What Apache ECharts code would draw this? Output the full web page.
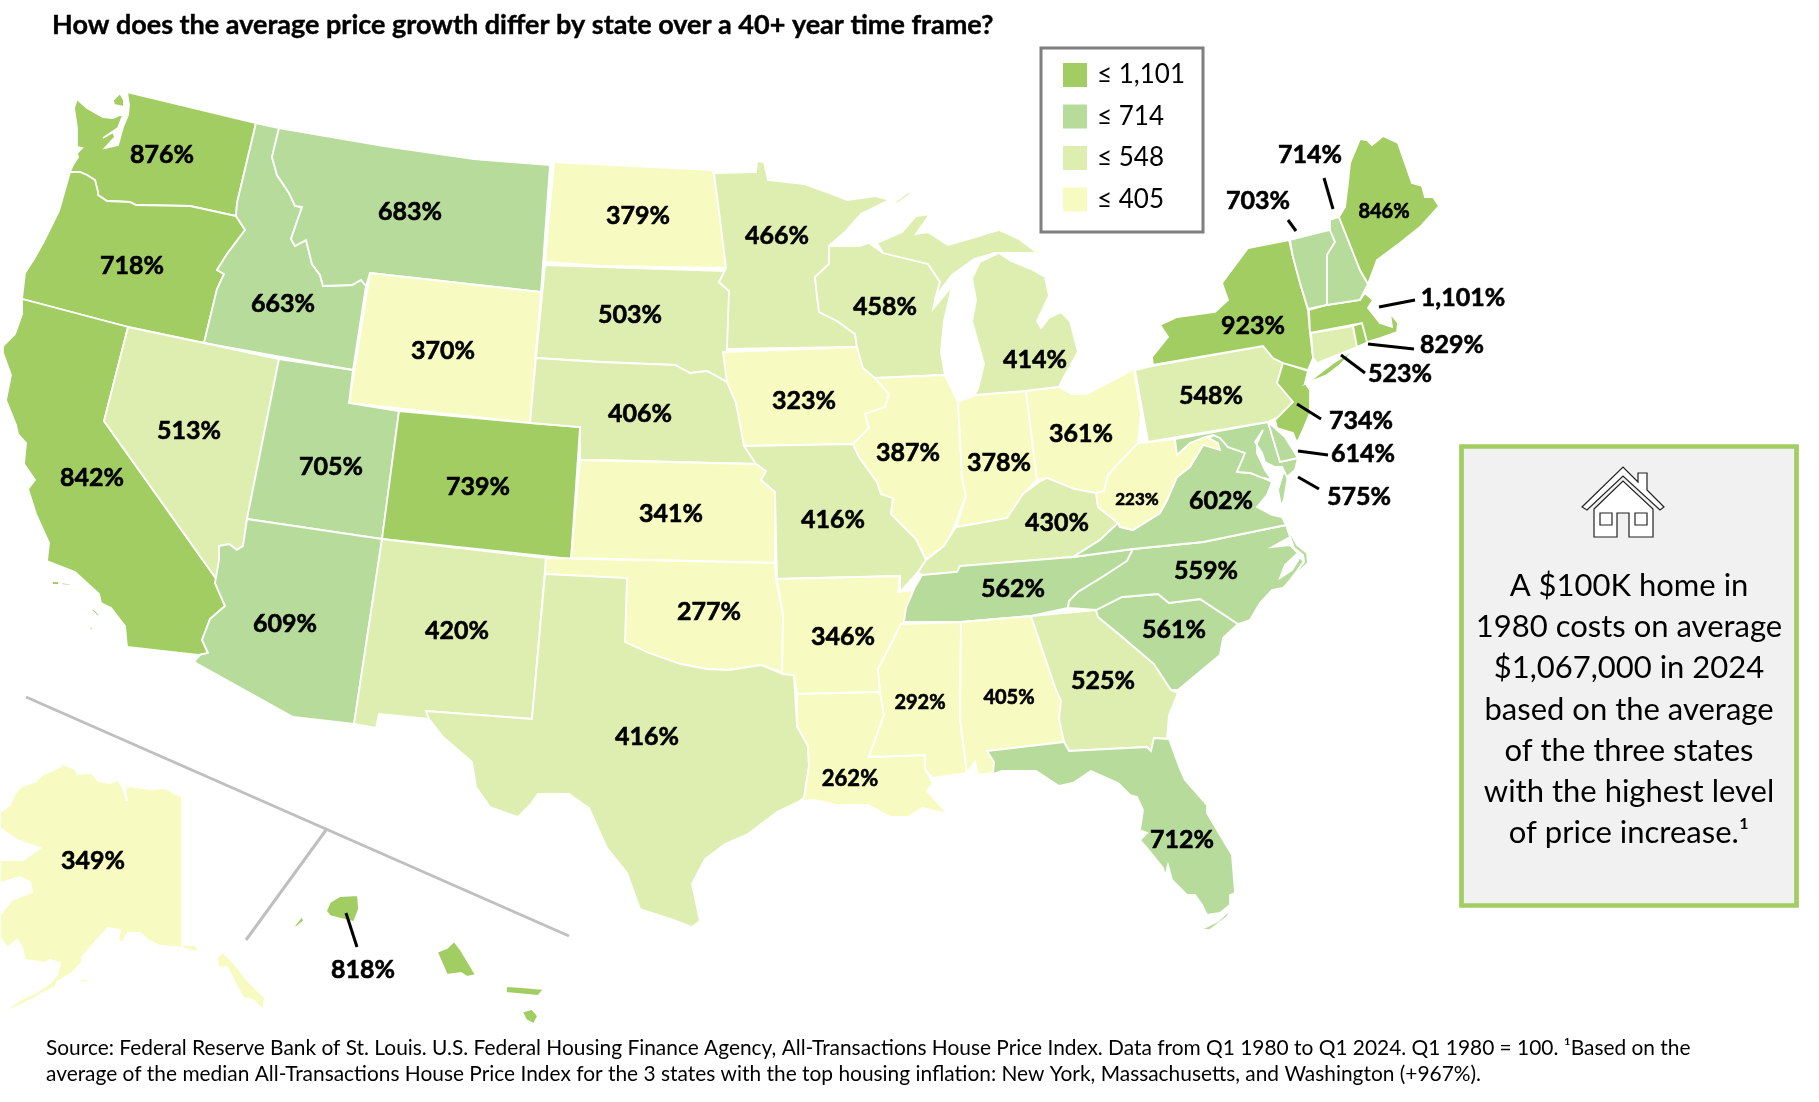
<!DOCTYPE html>
<html>
<head>
    <meta charset="utf-8">
    <title>Average price growth by state</title>
    <script src="https://cdn.jsdelivr.net/npm/echarts@6/dist/echarts.min.js"></script>
    <style>html,body{margin:0;padding:0;background:#fff;}</style>
</head>
<body>
    <div id="main" style="width:1819px;height:1102px;"></div>
    <script type="text/javascript">
        var stateNames = ['Washington','Oregon','California','Idaho','Montana','Wyoming','Nevada','Utah','Colorado','Arizona','New Mexico',
            'North Dakota','South Dakota','Nebraska','Kansas','Oklahoma','Texas','Minnesota','Iowa','Missouri','Arkansas','Louisiana',
            'Wisconsin','Illinois','Indiana','Michigan','Ohio','Kentucky','Tennessee','Mississippi','Alabama','Georgia','Florida',
            'South Carolina','North Carolina','Virginia','West Virginia','Maryland','Delaware','Pennsylvania','New Jersey','New York',
            'Connecticut','Rhode Island','Massachusetts','Vermont','New Hampshire','Maine','Alaska','Hawaii'];
        var stateGrowth = [876,718,842,663,683,370,513,705,739,609,420,
            379,503,406,341,277,416,466,323,416,346,262,
            458,387,378,414,361,430,562,292,405,525,712,
            561,559,602,223,575,614,548,734,923,
            523,829,1101,703,714,846,349,818];
        var legendBounds = [1101,714,548,405];
        var legendColors = ['#A1CD63','#B7DB9B','#DEEEB0','#F8FBC1'];

        // state outlines: [label x, label y], then flat x,y rings
        var stateShapes = {
            'Washington': [[162,155],[77,99,74,108,77,128,77,147,82,148,77,153,78,157,73,165,70,172,80,172,87,175,95,180,98,192,98,195,107,201,130,202,136,205,190,206,236,216,237,203,256,123,127,92,129,105,128,115,123,127,118,145,105,148,115,137,113,132,103,138,118,128,123,115,120,115,113,118,103,117,87,108],[113,100,120,93,124,100,124,107,114,105]],
            'Oregon': [[132,266],[70,172,59,211,43,243,34,259,25,273,22,299,128,327,204,343,217,289,224,274,217,270,227,254,245,230,236,216,190,206,136,205,130,202,107,201,98,195,98,192,95,180,87,175,80,172]],
            'California': [[92,478],[22,299,22,314,15,334,3,346,3,353,11,375,6,400,16,425,18,434,26,443,24,464,35,480,28,489,36,514,49,543,47,561,75,572,99,594,101,603,111,608,125,626,127,647,198,655,208,653,202,640,210,619,225,606,215,583,217,580,104,421,128,327],[52,581,59,581,59,585,52,585],[61,582,72,584,70,586,62,585],[93,608,100,615,97,616,91,610],[89,624,94,630,90,630]],
            'Idaho': [[283,304],[256,123,279,128,272,157,277,175,289,193,295,206,302,207,291,239,295,246,306,240,312,264,320,275,323,286,352,285,361,280,366,286,353,370,204,343,217,289,224,274,217,270,227,254,245,230,236,216,237,203]],
            'Montana': [[410,212],[279,128,384,146,474,159,550,165,541,292,370,273,366,286,361,280,352,285,323,286,320,275,312,264,306,240,295,246,291,239,302,207,295,206,289,193,277,175,272,157]],
            'Wyoming': [[443,351],[370,273,541,292,530,423,349,403]],
            'Nevada': [[189,431],[128,327,204,343,279,359,247,519,243,546,237,550,229,544,219,546,219,560,217,580,104,421]],
            'Utah': [[331,467],[279,359,353,370,349,403,399,411,382,539,247,519]],
            'Colorado': [[478,487],[399,411,530,423,580,427,571,559,382,539]],
            'Arizona': [[285,624],[247,519,382,539,354,724,293,717,194,662,200,655,208,653,202,640,210,619,225,606,215,583,219,560,219,546,229,544,237,550,243,546]],
            'New Mexico': [[457,631],[382,539,546,558,532,719,426,711,429,719,379,714,376,728,354,724]],
            'North Dakota': [[638,216],[554,162,713,170,719,211,726,268,600,266,545,262]],
            'South Dakota': [[630,315],[545,265,726,271,719,282,729,291,729,349,725,352,728,365,727,382,707,371,690,373,675,365,600,362,536,358]],
            'Nebraska': [[640,414],[536,358,600,362,675,365,690,373,707,371,727,382,736,403,746,444,756,464,600,460,580,460,580,427,530,423]],
            'Kansas': [[671,514],[580,460,756,464,766,471,761,480,775,492,775,563,571,558]],
            'Oklahoma': [[709,612],[546,558,775,563,776,579,783,615,782,672,761,665,729,670,707,669,680,664,649,653,625,642,627,578,545,574]],
            'Texas': [[647,737],[545,574,627,578,625,642,649,653,680,664,707,669,729,670,761,665,783,674,794,675,797,726,808,746,809,766,804,798,800,801,777,812,748,834,725,844,705,859,692,884,700,921,692,927,671,919,640,909,627,873,607,848,589,808,569,794,538,794,530,805,518,817,490,807,476,787,472,762,443,737,429,719,426,711,532,719]],
            'Minnesota': [[777,236],[714,173,756,172,757,161,764,162,768,180,804,184,837,196,847,200,875,196,889,200,861,214,845,232,829,246,829,264,815,277,817,296,819,312,837,321,855,334,857,347,727,349,729,291,719,282,726,268,719,211]],
            'Iowa': [[804,401],[723,352,857,347,863,368,875,378,889,394,885,407,865,414,869,428,853,444,744,446,736,403,727,382]],
            'Missouri': [[833,520],[744,446,853,444,859,457,877,482,881,494,893,498,891,514,916,539,926,560,918,572,900,592,900,576,777,579,775,492,761,480,766,471,756,464]],
            'Arkansas': [[843,637],[777,579,900,576,898,592,913,590,904,622,891,644,878,669,880,692,797,694,794,675,783,674,782,672,783,615]],
            'Louisiana': [[850,779],[797,694,880,692,884,715,869,757,925,755,925,769,933,783,927,791,948,814,922,808,908,817,890,817,868,805,837,805,814,800,800,801,804,798,809,766,808,746,797,726]],
            'Wisconsin': [[885,307],[829,246,859,246,869,243,883,253,928,264,940,282,936,296,933,309,952,286,944,321,941,352,945,375,875,378,863,368,857,347,855,334,837,321,819,312,817,296,815,277,829,264]],
            'Illinois': [[908,453],[875,378,945,375,958,402,962,478,966,496,954,527,950,536,944,546,926,559,916,539,891,514,893,498,881,494,877,482,859,457,853,444,869,428,865,414,885,407,889,394]],
            'Indiana': [[999,463],[958,402,976,395,1026,391,1037,480,1023,494,1007,518,980,523,956,527,966,496,962,478]],
            'Michigan': [[1035,360],[974,395,1026,391,1059,387,1065,375,1078,352,1070,321,1061,312,1049,318,1041,328,1037,321,1049,296,1045,277,1033,270,1011,261,999,253,980,262,972,278,976,300,972,321,984,364,978,389],[877,243,883,253,928,264,940,282,936,296,952,275,974,259,995,253,1037,253,1031,248,1019,239,999,230,976,237,948,245,928,232,916,234,930,214,916,216,902,232],[912,193,897,204,895,202,908,192]],
            'Ohio': [[1081,434],[1026,391,1059,387,1072,394,1086,394,1106,384,1134,369,1141,414,1138,443,1118,464,1108,475,1104,491,1096,493,1074,489,1047,478,1037,480]],
            'Kentucky': [[1057,523],[922,575,957,572,960,566,1073,557,1100,540,1118,523,1098,507,1096,493,1074,489,1047,478,1039,482,1023,494,1007,518,980,523,956,527,944,546,926,560,918,572]],
            'Tennessee': [[1013,589],[904,622,906,608,915,587,922,575,957,572,960,566,1073,557,1133,549,1127,561,1104,576,1078,592,1069,601,1068,608,1031,616,961,622]],
            'Mississippi': [[920,703],[901,624,961,622,960,719,967,773,933,778,925,769,925,755,869,757,884,715,880,692,878,669,891,644]],
            'Alabama': [[1009,698],[961,622,1031,616,1055,687,1061,701,1059,719,1064,742,987,751,994,762,993,773,978,775,975,762,967,773,960,719]],
            'Georgia': [[1103,681],[1031,616,1096,610,1098,617,1120,635,1154,664,1171,690,1178,693,1169,715,1167,739,1154,738,1151,751,1147,747,1069,751,1064,742,1059,719,1061,701,1055,687]],
            'Florida': [[1182,840],[987,751,1064,742,1069,751,1147,747,1151,751,1154,738,1169,739,1180,769,1185,780,1207,805,1207,813,1232,855,1235,893,1230,895,1230,905,1220,913,1207,915,1202,905,1195,895,1187,895,1172,880,1168,865,1165,877,1163,868,1147,848,1140,840,1147,833,1140,830,1143,810,1137,797,1130,795,1118,783,1091,771,1073,783,1059,786,1036,771,1002,771,993,774,994,762],[1236,902,1227,917,1210,930,1200,930,1188,937,1202,929,1218,921,1230,910]],
            'South Carolina': [[1174,630],[1096,610,1122,597,1158,594,1169,603,1200,599,1238,624,1223,638,1220,655,1178,690,1171,690,1154,664,1120,635,1098,617]],
            'North Carolina': [[1206,571],[1068,608,1069,601,1078,592,1104,576,1127,561,1133,549,1203,542,1286,525,1290,537,1272,547,1290,545,1298,553,1285,565,1280,578,1292,570,1300,557,1304,562,1290,580,1283,588,1272,590,1260,603,1250,620,1238,624,1200,599,1169,603,1158,594,1122,597,1096,610],[1286,525,1297,545,1307,553,1308,563,1292,578,1304,561,1303,555,1294,548]],
            'Virginia': [[1221,501],[1073,557,1100,540,1118,523,1120,527,1133,530,1160,513,1167,500,1177,477,1190,467,1203,445,1213,435,1220,438,1228,447,1245,453,1243,458,1237,472,1250,473,1263,478,1272,482,1267,495,1257,507,1272,515,1282,517,1286,525,1203,542,1133,549],[1295,470,1288,475,1284,500,1281,506,1278,490,1283,473]],
            'West Virginia': [[1137,500],[1138,443,1148,442,1175,439,1177,455,1190,443,1205,436,1218,443,1220,450,1203,445,1190,467,1177,477,1167,500,1160,513,1133,530,1120,527,1118,523,1098,507,1096,493,1104,491,1108,475,1118,464]],
            'Maryland': [[1359,497],[1175,439,1268,422,1280,462,1298,458,1295,470,1287,477,1282,467,1275,467,1265,462,1262,453,1255,442,1263,430,1257,443,1257,453,1265,470,1272,480,1263,478,1250,473,1237,472,1243,458,1245,453,1228,447,1220,438,1213,435,1205,437,1190,443,1177,455]],
            'Delaware': [[1363,454],[1268,422,1275,428,1285,437,1298,458,1280,462]],
            'Pennsylvania': [[1211,396],[1135,370,1152,366,1152,357,1153,366,1263,346,1273,358,1283,363,1277,383,1293,402,1282,415,1268,422,1148,442]],
            'New Jersey': [[1361,421],[1283,363,1308,371,1305,383,1310,390,1310,413,1303,430,1297,443,1293,433,1277,428,1275,420,1293,402,1277,383]],
            'New York': [[1253,326],[1153,365,1152,357,1168,337,1160,325,1177,317,1215,312,1228,300,1222,283,1248,248,1289,240,1293,257,1300,283,1308,310,1310,333,1313,358,1308,370,1283,363,1273,358,1263,346],[1307,383,1333,363,1357,348,1340,365,1327,375]],
            'Connecticut': [[1400,374],[1311,333,1353,326,1357,347,1317,363,1313,358]],
            'Rhode Island': [[1452,345],[1353,326,1362,323,1368,342,1357,347]],
            'Massachusetts': [[1463,298],[1309,310,1327,305,1360,300,1365,293,1373,300,1368,308,1380,323,1392,327,1390,313,1398,323,1397,332,1380,338,1367,342,1362,323,1310,333]],
            'Vermont': [[1258,201],[1290,240,1330,230,1335,242,1327,255,1327,305,1308,309,1300,283,1293,257]],
            'New Hampshire': [[1310,155],[1330,220,1339,217,1360,270,1368,284,1360,300,1327,305,1327,255,1335,242,1330,230]],
            'Maine': [[1384,212],[1339,217,1345,207,1348,183,1350,163,1360,139,1367,140,1372,145,1383,136,1398,143,1412,183,1422,186,1425,197,1433,197,1439,206,1420,227,1400,243,1377,260,1368,284,1360,270]],
            'Alaska': [[93,861],[0,812,10,805,15,793,22,786,35,782,42,775,58,768,63,764,70,767,75,769,78,774,92,773,98,781,110,783,118,780,123,788,127,801,125,788,130,786,150,789,165,788,182,797,182,948,160,946,148,940,140,933,128,933,122,943,118,940,120,930,108,928,97,940,82,957,82,962,72,973,57,982,55,987,43,993,35,998,20,1005,10,1010,2,1015,10,1007,20,1000,35,993,50,983,57,975,60,963,50,960,45,963,25,960,22,947,17,940,7,948,0,937,0,915,12,900,32,892,30,882,20,877,0,883,0,860,23,860,40,848,17,840,0,828],[182,945,195,945,200,953,208,963,218,967,217,957,223,952,233,962,247,980,265,998,263,1010,253,1000,243,998,227,967,213,968,197,952,182,948],[78,980,90,978,87,982,80,983]],
            'Hawaii': [[363,970],[326,911,330,902,340,896,358,895,359,909,354,922,342,919,330,916],[302,916,295,925,293,930,304,921],[454,941,461,950,476,975,467,977,461,973,447,975,437,952,447,948],[506,986,522,987,544,989,538,996,506,993],[522,1012,532,1009,538,1016,534,1024,526,1020],[551,1039,555,1040,553,1046]]
        };
        // a few states carry a smaller label
        var smallLabels = {'Maine':20,'West Virginia':17,'Mississippi':20,'Alabama':20,'Louisiana':22};

        var titleText = 'How does the average price growth differ by state over a 40+ year time frame?';
        var sourceText = 'Source: Federal Reserve Bank of St. Louis. U.S. Federal Housing Finance Agency, All-Transactions House Price Index. Data from Q1 1980 to Q1 2024. Q1 1980 = 100. ¹Based on the\naverage of the median All-Transactions House Price Index for the 3 states with the top housing inflation: New York, Massachusetts, and Washington (+967%).';
        var calloutText = 'A $100K home in\n1980 costs on average\n$1,067,000 in 2024\nbased on the average\nof the three states\nwith the highest level\nof price increase.¹';

        var leaderLines = [[1288,220,1296,231],[1324,178,1333,209],[1379,307,1415,300],[1368,344,1414,349],[1341,355,1365,373],[1297,404,1321,419],[1298,451,1328,455],[1298,477,1319,489],[346,913,357,947]];
        var insetLines = [[26,697,569,936],[326,830,246,940]];

        function pairs(flat){
            var out = [];
            for (var i = 0; i < flat.length; i += 2) out.push([flat[i], flat[i+1]]);
            out.push([flat[0], flat[1]]);
            return out;
        }
        var features = stateNames.map(function(name){
            var s = stateShapes[name];
            return {
                type: 'Feature',
                properties: {name: name, cp: s[0]},
                geometry: {type: 'MultiPolygon', coordinates: s.slice(1).map(function(r){ return [pairs(r)]; })}
            };
        });
        echarts.registerMap('usTrace', {type: 'FeatureCollection', features: features});

        var graphics = [
            {type:'rect', z:1, shape:{x:1041,y:48,width:162,height:184}, style:{fill:'#fff',stroke:'#7F7F7F',lineWidth:3}},
            {type:'rect', z:1, shape:{x:1461.5,y:446.5,width:335,height:459}, style:{fill:'#F1F1F1',stroke:'#A1CD63',lineWidth:4.7}},
            {type:'text', z:5, x:1629, y:565, style:{text:calloutText,fontFamily:'Lato',fontSize:31,lineHeight:41.3,fill:'#000',align:'center',verticalAlign:'top'}},
            {type:'polygon', z:5, shape:{points:pairs([1582,507,1623,467,1638,482,1638,473,1647,473,1647,490,1664,507,1660,510,1623,476,1587,510])}, style:{fill:'#fff',stroke:'#222',lineWidth:1.2}},
            {type:'polygon', z:5, shape:{points:pairs([1594,509,1623,481,1653,509,1653,537,1629,537,1629,513,1617,513,1617,537,1594,537])}, style:{fill:'#fff',stroke:'#222',lineWidth:1.2}},
            {type:'rect', z:6, shape:{x:1600,y:513,width:12,height:12}, style:{fill:'#fff',stroke:'#222',lineWidth:1.2}},
            {type:'rect', z:6, shape:{x:1635,y:513,width:12,height:12}, style:{fill:'#fff',stroke:'#222',lineWidth:1.2}}
        ];
        insetLines.forEach(function(l){
            graphics.push({type:'line', z:1, shape:{x1:l[0],y1:l[1],x2:l[2],y2:l[3]}, style:{stroke:'#BFBFBF',lineWidth:3}});
        });
        leaderLines.forEach(function(l){
            graphics.push({type:'line', z:5, shape:{x1:l[0],y1:l[1],x2:l[2],y2:l[3]}, style:{stroke:'#000',lineWidth:3}});
        });

        var myChart = echarts.init(document.getElementById('main'));
        var option = {
            animation: false,
            title: [
                {text: titleText, left: 47, top: 7, textStyle: {fontFamily:'Lato', fontSize:27, fontWeight:'bold', color:'#000', textBorderColor:'#000', textBorderWidth:0.4}},
                {text: sourceText, left: 41, top: 1030, textStyle: {fontFamily:'Lato', fontSize:20.9, fontWeight:'normal', color:'#000', lineHeight:26}}
            ],
            visualMap: {
                type: 'piecewise',
                left: 1063, top: 62,
                padding: 0,
                align: 'left',
                itemWidth: 24, itemHeight: 24, itemGap: 15.5, textGap: 10,
                itemSymbol: 'rect',
                hoverLink: false, selectedMode: false,
                textStyle: {fontFamily:'Lato', fontSize:26, color:'#000'},
                pieces: legendBounds.map(function(b, i){
                    return {gt: legendBounds[i+1] || 0, lte: b, label: '≤ ' + b.toLocaleString('en-US'), color: legendColors[i]};
                })
            },
            graphic: graphics,
            series: [{
                type: 'map',
                map: 'usTrace',
                projection: {project: function(p){ return p; }, unproject: function(p){ return p; }},
                boundingCoords: [[0,0],[1819,1102]],
                left: 0, top: 0, width: 1819, height: 1102,
                roam: false, silent: true, showLegendSymbol: false, z: 3,
                itemStyle: {borderColor:'#fff', borderWidth:1.8, areaColor:'#fff'},
                label: {
                    show: true, color:'#000', fontFamily:'Lato', fontWeight:'bold', fontSize:25,
                    textBorderColor:'#000', textBorderWidth:0.6,
                    formatter: function(p){ return p.value.toLocaleString('en-US') + '%'; }
                },
                data: stateNames.map(function(name, i){
                    var item = {name: name, value: stateGrowth[i]};
                    if (smallLabels[name]) item.label = {fontSize: smallLabels[name]};
                    return item;
                })
            }]
        };
        myChart.setOption(option);
    </script>
</body>
</html>
